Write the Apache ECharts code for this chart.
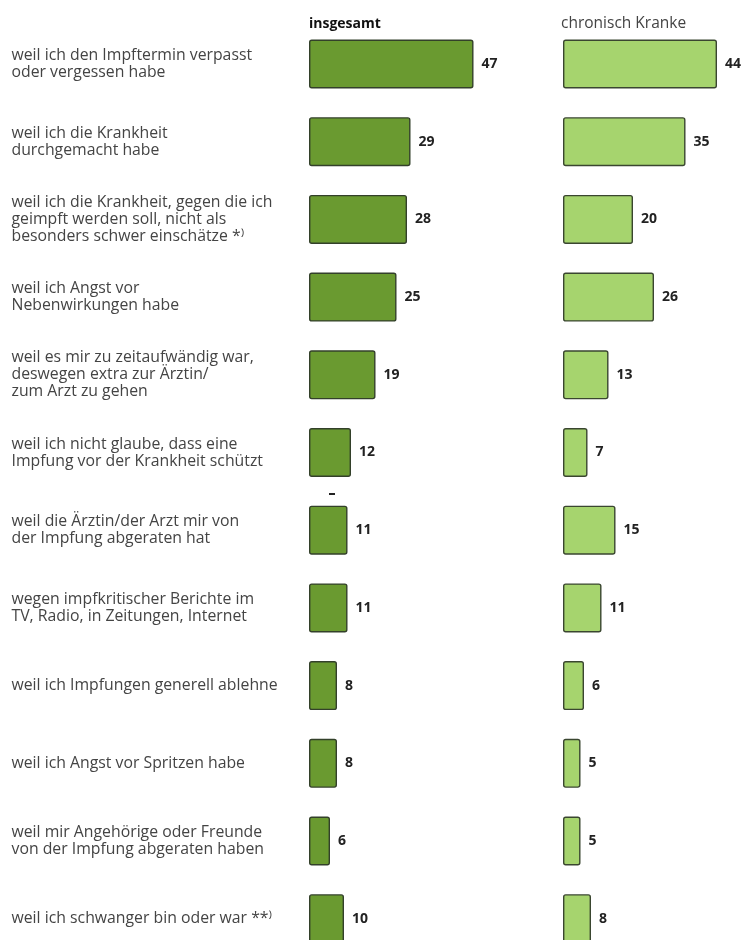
<!DOCTYPE html>
<html>
<head>
<meta charset="utf-8">
<script src="https://cdn.jsdelivr.net/npm/echarts@6/dist/echarts.min.js"></script>
<style>
  html, body { margin: 0; padding: 0; background: #ffffff; }
  #chart { width: 746px; height: 940px; }
</style>
</head>
<body>
<div id="chart"></div>
<script>
// Gründe gegen eine Impfung (Angaben in Prozent)
const reasons = [
  'weil ich den Impftermin verpasst\noder vergessen habe',
  'weil ich die Krankheit\ndurchgemacht habe',
  'weil ich die Krankheit, gegen die ich\ngeimpft werden soll, nicht als\nbesonders schwer einschätze *⁾',
  'weil ich Angst vor\nNebenwirkungen habe',
  'weil es mir zu zeitaufwändig war,\ndeswegen extra zur Ärztin/\nzum Arzt zu gehen',
  'weil ich nicht glaube, dass eine\nImpfung vor der Krankheit schützt',
  'weil die Ärztin/der Arzt mir von\nder Impfung abgeraten hat',
  'wegen impfkritischer Berichte im\nTV, Radio, in Zeitungen, Internet',
  'weil ich Impfungen generell ablehne',
  'weil ich Angst vor Spritzen habe',
  'weil mir Angehörige oder Freunde\nvon der Impfung abgeraten haben',
  'weil ich schwanger bin oder war **⁾'
];
const insgesamt = [47, 29, 28, 25, 19, 12, 11, 11, 8, 8, 6, 10];
const chronischKranke = [44, 35, 20, 26, 13, 7, 15, 11, 6, 5, 5, 8];
const groupTitles = ['insgesamt', 'chronisch Kranke'];

const FONT = '"Open Sans", sans-serif';
// first and last row centres; the last row runs off the bottom edge
const firstRowY = 64;
const lastRowY = 918.7;

const barLabel = {
  show: true,
  position: 'right',
  distance: 8,
  fontFamily: FONT,
  fontSize: 14,
  fontWeight: 'bold',
  color: '#222222'
};

function catAxis(gridIndex, showLabels) {
  return {
    type: 'category',
    gridIndex: gridIndex,
    data: reasons,
    inverse: true,
    boundaryGap: false,
    axisLine: { show: false },
    axisTick: { show: false },
    splitLine: { show: false },
    axisLabel: showLabels ? {
      show: true,
      interval: 0,
      align: 'left',
      margin: 297.5,
      fontFamily: FONT,
      fontSize: 15.8,
      lineHeight: 17,
      color: '#444444'
    } : { show: false }
  };
}

function valAxis(gridIndex) {
  return {
    type: 'value',
    gridIndex: gridIndex,
    min: 0,
    max: 50,
    show: false
  };
}

const chart = echarts.init(document.getElementById('chart'), null, { renderer: 'canvas' });
chart.setOption({
  animation: false,
  backgroundColor: '#ffffff',
  title: [
    {
      text: groupTitles[0], left: 309, top: 17, padding: 0,
      textStyle: { fontFamily: FONT, fontSize: 14, fontWeight: 'bold', color: '#111111' }
    },
    {
      text: groupTitles[1], left: 561, top: 16, padding: 0,
      textStyle: { fontFamily: FONT, fontSize: 15.5, fontWeight: 'normal', color: '#444444' }
    }
  ],
  grid: [
    { left: 309, width: 175, top: firstRowY, height: lastRowY - firstRowY, containLabel: false },
    { left: 563, width: 175, top: firstRowY, height: lastRowY - firstRowY, containLabel: false }
  ],
  xAxis: [valAxis(0), valAxis(1)],
  yAxis: [catAxis(0, true), catAxis(1, false)],
  series: [
    {
      name: groupTitles[0],
      type: 'bar',
      xAxisIndex: 0,
      yAxisIndex: 0,
      data: insgesamt,
      barWidth: 49,
      clip: false,
      itemStyle: { color: '#6a9a30', borderColor: '#33402a', borderWidth: 1.4, borderRadius: 2 },
      label: barLabel
    },
    {
      name: groupTitles[1],
      type: 'bar',
      xAxisIndex: 1,
      yAxisIndex: 1,
      data: chronischKranke,
      barWidth: 49,
      clip: false,
      itemStyle: { color: '#a6d46e', borderColor: '#3a4630', borderWidth: 1.4, borderRadius: 2 },
      label: barLabel
    }
  ],
  graphic: [
    { type: 'rect', shape: { x: 329, y: 493, width: 6, height: 2 }, style: { fill: '#222222' } }
  ]
});
</script>
</body>
</html>
